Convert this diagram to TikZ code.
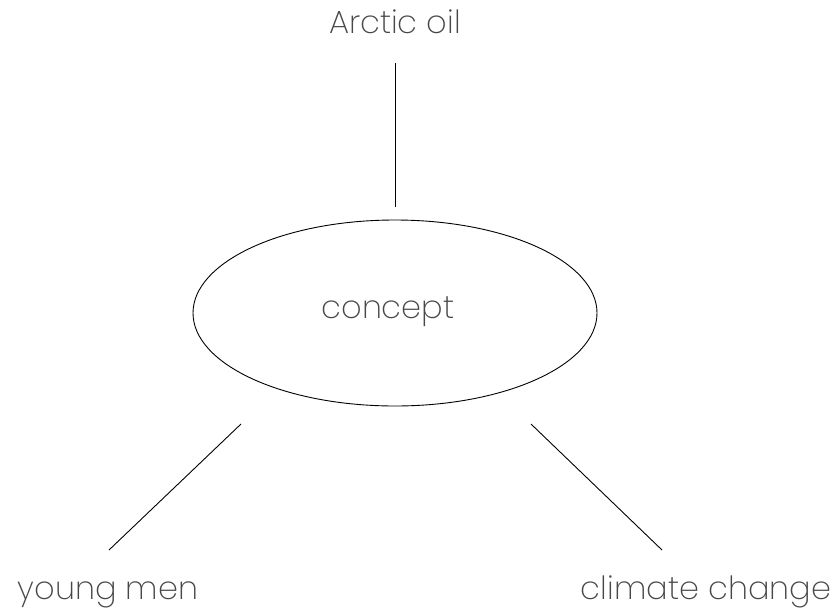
\documentclass[tikz,border=0pt]{standalone}
\usepackage{fontspec}
\setmainfont{Poppins ExtraLight}
\usetikzlibrary{shapes.geometric}
\tikzset{
  lbl/.style={font=\fontsize{32}{36}\selectfont, text=black!72, inner sep=0pt, anchor=base},
  concept/.style={ellipse, draw=black, line width=0.9pt, minimum width=404pt, minimum height=186pt, inner sep=0pt},
  link/.style={draw=black, line width=0.9pt}
}
\begin{document}
\begin{tikzpicture}[x=1pt,y=-1pt]
\useasboundingbox (0,0) rectangle (838,611);
\node[concept] (c) at (395,313) {};
\node[lbl] (ct) at (388,318) {concept};
\node[lbl] (a) at (395,33) {Arctic oil};
\node[lbl] (y) at (108,599) {young men};
\node[lbl] (cl) at (706,599) {climate change};
\coordinate (t1) at (395,63);
\coordinate (t2) at (395,207);
\coordinate (l1) at (241,424);
\coordinate (l2) at (109,550);
\coordinate (r1) at (531,424);
\coordinate (r2) at (662,550);
\draw[link] (t1) -- (t2);
\draw[link] (l1) -- (l2);
\draw[link] (r1) -- (r2);
\end{tikzpicture}
\end{document}
